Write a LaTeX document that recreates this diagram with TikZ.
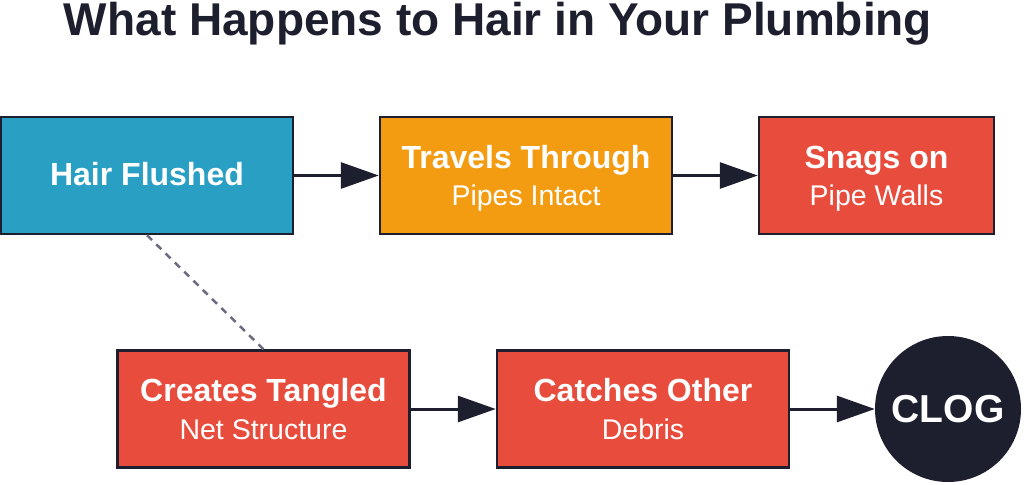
\documentclass[tikz,border=0pt]{standalone}
\usepackage{fontspec}
\setmainfont{Liberation Sans}
\usetikzlibrary{arrows.meta}
\definecolor{cblue}{HTML}{2A9FC4}
\definecolor{corange}{HTML}{F39C12}
\definecolor{cred}{HTML}{E74C3C}
\definecolor{cdark}{HTML}{1E1F2E}
\definecolor{cdash}{HTML}{6A6B80}
\begin{document}
\begin{tikzpicture}[x=1pt,y=-1pt,
  stepbox/.style={draw=cdark,line width=2.5pt,minimum width=292pt,minimum height=117pt,inner sep=0pt},
  hd/.style={anchor=base,text=white,inner sep=0pt,font=\fontsize{32}{36}\selectfont\bfseries},
  sub/.style={anchor=base,text=white,inner sep=0pt,font=\fontsize{28.5}{34}\selectfont},
  flow/.style={draw=cdark,line width=3pt,-{Triangle[length=38pt,width=26pt]}}]
\useasboundingbox (0,0) rectangle (1024,484);
\node[font=\fontsize{46}{50}\selectfont\bfseries,text=cdark,anchor=base] (title) at (498,36) {What Happens to Hair in Your Plumbing};
\node[stepbox,fill=cblue] (hair) at (147,175.5) {};
\node[stepbox,fill=corange] (travel) at (526,175.5) {};
\node[stepbox,fill=cred,minimum width=235pt] (snag) at (876.5,175.5) {};
\node[stepbox,fill=cred] (tangle) at (263.5,409) {};
\node[stepbox,fill=cred] (catch) at (643,409) {};
\node[circle,fill=cdark,minimum size=146pt,inner sep=0pt,text=white,font=\fontsize{39}{40}\selectfont\bfseries] (clog) at (948,409) {CLOG};
\node[hd] (hairT) at ([yshift=-10pt]hair.center) {Hair Flushed};
\node[hd] (travelT) at ([yshift=7.5pt]travel.center) {Travels Through};
\node[sub] (travelS) at ([yshift=-30pt]travel.center) {Pipes Intact};
\node[hd] (snagT) at ([yshift=7.5pt]snag.center) {Snags on};
\node[sub] (snagS) at ([yshift=-30pt]snag.center) {Pipe Walls};
\node[hd] (tangleT) at ([yshift=7.5pt]tangle.center) {Creates Tangled};
\node[sub] (tangleS) at ([yshift=-30pt]tangle.center) {Net Structure};
\node[hd] (catchT) at ([yshift=7.5pt]catch.center) {Catches Other};
\node[sub] (catchS) at ([yshift=-30pt]catch.center) {Debris};
\draw[flow] (hair) -- (travel);
\draw[flow] (travel) -- (snag);
\draw[flow] (tangle) -- (catch);
\draw[flow] (catch) -- (clog);
\draw[cdash,line width=2.5pt,dash pattern=on 7pt off 6pt] (hair.south) -- (tangle.north);
\end{tikzpicture}
\end{document}
